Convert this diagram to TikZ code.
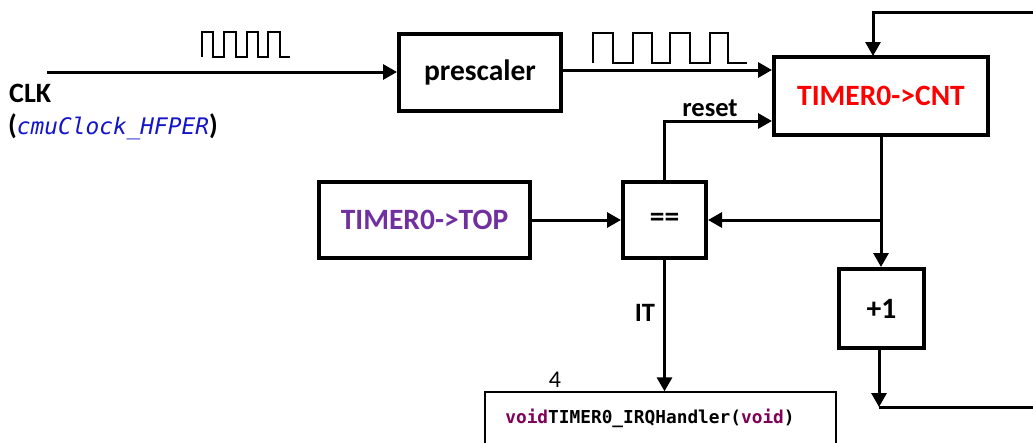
\documentclass[tikz,border=0pt]{standalone}
\usepackage{fontspec}
\setmainfont{Carlito}
\setmonofont{DejaVu Sans Mono}
\newfontfamily\codeit{DejaVu Sans Mono Oblique}
\usetikzlibrary{arrows.meta}

\definecolor{cntred}{RGB}{255,0,0}
\definecolor{toppurple}{RGB}{112,48,160}
\definecolor{kwcolor}{RGB}{127,0,85}
\definecolor{symblue}{RGB}{20,20,200}

\tikzset{
  block/.style={draw=black, line width=4pt, inner sep=0pt, font=\fontsize{29.5}{32}\selectfont\bfseries},
  conn/.style={line width=3pt, -{Triangle[length=14pt,width=15pt]}},
  wire/.style={line width=3pt},
  wave/.style={line width=1.3pt, line join=miter},
  lbl/.style={inner sep=0pt, font=\fontsize{26.5}{30}\selectfont\bfseries},
  codebox/.style={draw=black, line width=1.3pt, inner sep=0pt},
}

\begin{document}
\begin{tikzpicture}[x=1pt, y=-1pt]
\useasboundingbox (0,0) rectangle (1033,442);
\clip (0,0) rectangle (1033,442);

% blocks
\node[block, minimum width=162pt, minimum height=77pt] (pre) at (480,72) {prescaler};
\node[block, minimum width=214pt, minimum height=78pt, text=cntred] (cnt) at (881,96) {TIMER0->CNT};
\node[block, minimum width=211pt, minimum height=76pt, text=toppurple] (top) at (424.5,220) {TIMER0->TOP};
\node[block, minimum width=83pt, minimum height=76pt] (eq) at (664.5,220) {==};
\node[block, minimum width=85pt, minimum height=79pt] (inc) at (881.5,308.5) {+1};
\node[codebox, minimum width=351pt, minimum height=100pt] (irq) at (660.5,442) {};
\node[inner sep=0pt, anchor=base] (irqcode) at (650,423)
  {\fontsize{17.8}{20}\selectfont\ttfamily\bfseries\textcolor{kwcolor}{void}TIMER0\_IRQHandler(\textcolor{kwcolor}{void})};
\node[inner sep=0pt, font=\fontsize{24}{26}\selectfont] (num) at (555,380) {4};

% clock input labels
\node[lbl, anchor=west, font=\fontsize{28}{30}\selectfont\bfseries] (clk) at (9,93) {CLK};
\node[inner sep=0pt, anchor=west] (clksrc) at (8,127)
  {\fontsize{28}{30}\selectfont\bfseries(\textcolor{symblue}{\fontsize{22.8}{26}\selectfont\mdseries\codeit cmuClock\_HFPER})};

% signal labels
\node[lbl] (lreset) at (710,108) {reset};
\node[lbl] (lit) at (645,313) {IT};

% free ends of the connectors
\coordinate (clkin) at (47,72);
\coordinate (fbstart) at (1033,12);
\coordinate (fbend) at (873,56);
\coordinate (branch) at (881,220);
\coordinate (ret) at (879,407);
\coordinate (retend) at (1033,407);

% connectors
\draw[conn] (clkin) -- (pre.west);
\draw[conn] (pre.east |- 0,70) -- (cnt.west |- 0,70);
\draw[conn] (eq.north) |- (cnt.west |- 0,121);
\draw[conn] (top.east) -- (eq.west);
\draw[conn] (cnt.south) -- (cnt.south |- inc.north);
\draw[conn] (branch) -- (eq.east);
\draw[conn] (inc.south -| ret) -- (ret);
\draw[wire] (ret) -- (retend);
\draw[conn] (fbstart) -| (fbend);
\draw[conn] (eq.south) -- (eq.south |- irq.north);

% clock waveforms
\draw[wave] (202,57) -- (202,32) -- (213,32) -- (213,57) -- (224,57) -- (224,32)
  -- (236,32) -- (236,57) -- (247,57) -- (247,32) -- (258,32) -- (258,57)
  -- (268,57) -- (268,32) -- (280,32) -- (280,57) -- (290,57);
\draw[wave] (593,63) -- (593,33) -- (613,33) -- (613,63) -- (633,63) -- (633,33)
  -- (652,33) -- (652,63) -- (670,63) -- (670,33) -- (690,33) -- (690,63)
  -- (710,63) -- (710,33) -- (728,33) -- (728,63) -- (747,63);
\end{tikzpicture}
\end{document}
